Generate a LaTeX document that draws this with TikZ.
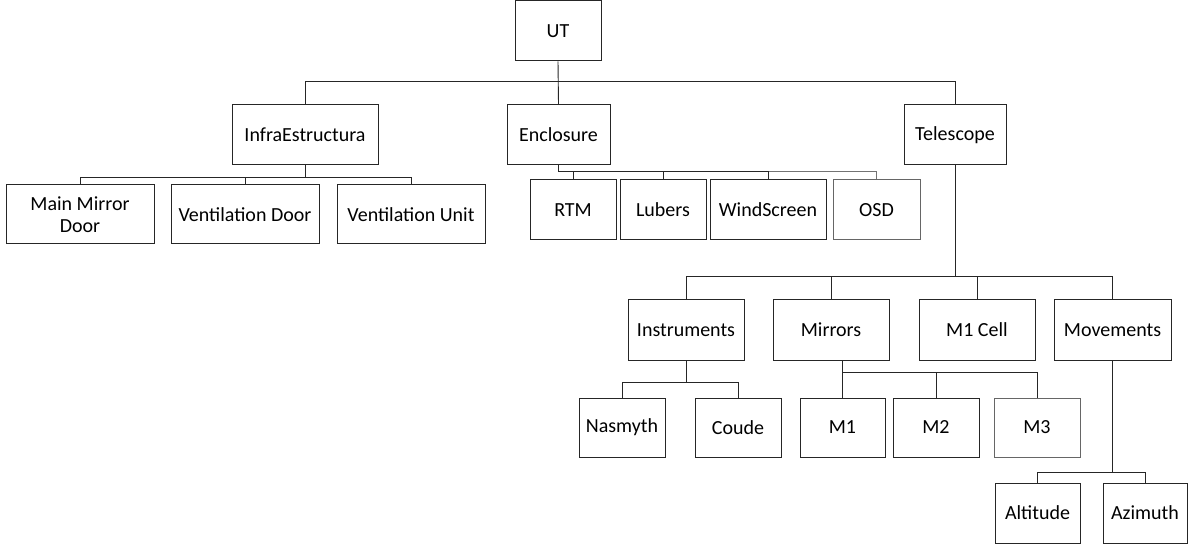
\documentclass[tikz,border=0pt]{standalone}
\usepackage{fontspec}
\setmainfont{Carlito}
\begin{document}
\begin{tikzpicture}[x=1pt,y=-1pt,
  box/.style={draw=black!85,line width=1pt,fill=white,inner sep=2pt,align=center,font=\fontsize{20}{22}\selectfont},
  lightbox/.style={box,draw=black!60},
  conn/.style={draw=black!85,line width=0.9pt},
  lightconn/.style={draw=black!55,line width=0.9pt}]
\useasboundingbox (0,0) rectangle (1191,545);
% level 0
\node[box,minimum width=86pt,minimum height=60pt] (UT) at (558,31) {UT};
% level 1
\node[box,minimum width=146pt,minimum height=60pt] (Infra) at (305,135) {InfraEstructura};
\node[box,minimum width=103pt,minimum height=60pt] (Enc) at (558.5,135) {Enclosure};
\node[box,minimum width=102pt,minimum height=60pt] (Tel) at (955,135) {Telescope};
% infra children
\node[box,minimum width=148pt,minimum height=59pt] (MMD) at (80,214.5) {Main Mirror\\Door};
\node[box,minimum width=148pt,minimum height=59pt] (VD) at (245,214.5) {Ventilation Door};
\node[box,minimum width=148pt,minimum height=59pt] (VU) at (411,214.5) {Ventilation Unit};
% enclosure children
\node[box,minimum width=86pt,minimum height=60pt] (RTM) at (573,210) {RTM};
\node[box,minimum width=86pt,minimum height=60pt] (Lub) at (663,210) {Lubers};
\node[box,minimum width=116pt,minimum height=60pt] (WS) at (768,210) {WindScreen};
\node[lightbox,minimum width=87pt,minimum height=60pt] (OSD) at (876.5,210) {OSD};
% telescope children
\node[box,minimum width=116pt,minimum height=60pt] (Ins) at (686,330) {Instruments};
\node[box,minimum width=116pt,minimum height=60pt] (Mir) at (831,330) {Mirrors};
\node[box,minimum width=116pt,minimum height=60pt] (M1C) at (977,330) {M1 Cell};
\node[box,minimum width=117pt,minimum height=60pt] (Mov) at (1112.5,330) {Movements};
% level 3
\node[box,minimum width=86pt,minimum height=59pt] (Nas) at (622,427.5) {Nasmyth};
\node[box,minimum width=86pt,minimum height=59pt] (Cou) at (738,427.5) {Coude};
\node[box,minimum width=85pt,minimum height=59pt] (M1) at (842.5,427.5) {M1};
\node[box,minimum width=86pt,minimum height=59pt] (M2) at (936,427.5) {M2};
\node[lightbox,minimum width=86pt,minimum height=59pt] (M3) at (1037,427.5) {M3};
\node[box,minimum width=85pt,minimum height=60pt] (Alt) at (1037.5,513) {Altitude};
\node[box,minimum width=84pt,minimum height=60pt] (Azi) at (1145,513) {Azimuth};
% bus levels
\coordinate (b1) at (0,81);
\coordinate (bI) at (0,177);
\coordinate (bE) at (0,171);
\coordinate (bT) at (0,276);
\coordinate (bN) at (0,382);
\coordinate (bM) at (0,372);
\coordinate (bV) at (0,472);
% UT
\draw[conn] (UT.south) -- (Enc.north);
\draw[conn] (Infra.north) |- (Tel.north |- b1) -- (Tel.north);
% Infra
\draw[conn] (Infra.south) -- (Infra.south |- bI);
\draw[conn] (MMD.north) |- (VU.north |- bI) -- (VU.north);
\draw[conn] (VD.north) -- (VD.north |- bI);
% Enclosure
\draw[conn] (Enc.south) |- (WS.north |- bE);
\draw[lightconn] (WS.north |- bE) -| (OSD.north);
\draw[conn] (RTM.north) -- (RTM.north |- bE);
\draw[conn] (Lub.north) -- (Lub.north |- bE);
\draw[conn] (WS.north) -- (WS.north |- bE);
% Telescope
\draw[conn] (Tel.south) -- (Tel.south |- bT);
\draw[conn] (Ins.north) |- (Mov.north |- bT) -- (Mov.north);
\draw[conn] (Mir.north) -- (Mir.north |- bT);
\draw[conn] (M1C.north) -- (M1C.north |- bT);
% Instruments
\draw[conn] (Ins.south) -- (Ins.south |- bN);
\draw[conn] (Nas.north) |- (Cou.north |- bN) -- (Cou.north);
% Mirrors
\draw[conn] (M1.north) -- (M1.north |- Mir.south);
\draw[conn] (M1.north |- bM) -| (M2.north);
\draw[conn] (M2.north |- bM) -| (M3.north);
% Movements
\draw[conn] (Mov.south) -- (Mov.south |- bV);
\draw[conn] (Alt.north) |- (Azi.north |- bV) -- (Azi.north);
\end{tikzpicture}
\end{document}
